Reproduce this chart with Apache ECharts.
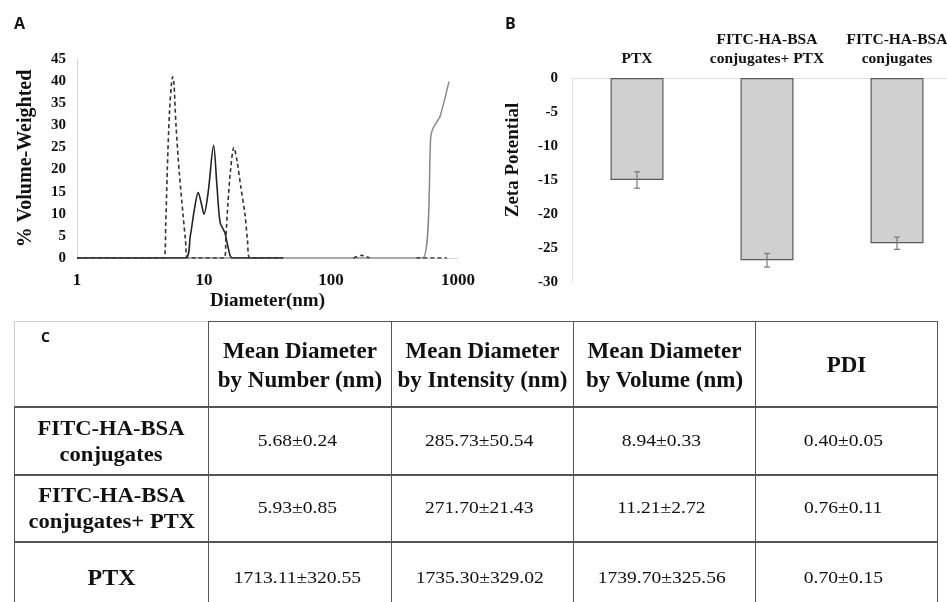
<!DOCTYPE html>
<html>
<head>
<meta charset="utf-8">
<script src="https://cdn.jsdelivr.net/npm/echarts@6/dist/echarts.min.js"></script>
<style>
  html, body { margin: 0; padding: 0; background: #fff; }
  #wrap { position: relative; width: 947px; height: 602px; overflow: hidden; }
  #chart { position: absolute; left: 0; top: 0; width: 990px; height: 602px; }
  #tbl { position: absolute; left: 14px; top: 321px; border-collapse: collapse; table-layout: fixed;
         font-family: "Liberation Serif", serif; color: #111; }
  #tbl td { border: 1px solid #555; text-align: center; vertical-align: middle; padding: 0; }
  #tbl tr.body td { border-top: 2px solid #555; }
  #tbl td.head { font-weight: bold; font-size: 23px; line-height: 29px; padding-top: 2px; }
  #tbl td.rowname { font-weight: bold; font-size: 20px; line-height: 26px; }
  #tbl td.val { font-size: 17px; padding-right: 6px; }
  #tbl td span.sx { display: inline-block; }
  #tbl td.rowname span.sx { transform: scaleX(1.13); }
  #tbl td.val span.sx { transform: scaleX(1.15); }
  #tbl td.corner { border-top: 1px solid #ccc; border-left: 1px solid #ccc; vertical-align: top; text-align: left; }
  .plabel { position: absolute; font-family: "Open Sans", "DejaVu Sans", sans-serif; font-weight: bold; font-size: 16px; color: #111; }
</style>
</head>
<body>
<div id="wrap">
  <div id="chart"></div>
  <div class="plabel" style="left:14px;top:12px;">A</div>
  <div class="plabel" style="left:505px;top:12px;">B</div>
  <table id="tbl"></table>
</div>
<script>
// ---- Panel A : size distribution (% volume-weighted vs diameter) ----
// [diameter nm, % volume]; null breaks the line
const conjugatesCurve = [[1,0],[4.84,0],[5.0,8],[5.14,20],[5.35,33],[5.55,39.5],[5.67,41],[5.8,39.5],[6.02,30],[6.4,19],[6.83,10],[7.15,4],[7.48,0],
  [14.45,0],[14.9,5],[15.4,12],[16.2,20],[17.2,25],[18.2,22],[19.5,16],[21.0,10],[22.0,4],[23,0],[42,0],[80,null],
  [150,0],[175,0.6],[200,0],[300,null],[470,0],[820,0]];
const conjugatesPtxCurve = [[1,0],[7.1,0],[7.8,5],[8.4,11],[9.0,14.8],[9.5,12.5],[10,9.9],[10.8,15],[11.9,25.5],[12.6,17],[13.4,8],[14.6,5.7],[15.6,2],[16.7,0],[42,0]];
const ptxCurve = [[1,0],[527,0],[610,27.4],[640,29.5],[721,32],[849,39.9]];

// ---- Panel B : zeta potential ----
const zetaCategories = ['PTX', 'FITC-HA-BSA\nconjugates+ PTX', 'FITC-HA-BSA\nconjugates'];
const zetaValues = [-15.0, -26.8, -24.3];
const zetaErrors = [1.2, 1.0, 0.9];

// ---- Panel C : table ----
const tableHeaders = ['Mean Diameter<br>by Number (nm)', 'Mean Diameter<br>by Intensity (nm)', 'Mean Diameter<br>by Volume (nm)', 'PDI'];
const tableRows = ['FITC-HA-BSA<br>conjugates', 'FITC-HA-BSA<br>conjugates+ PTX', 'PTX'];
const byNumber = ['5.68±0.24', '5.93±0.85', '1713.11±320.55'];
const byIntensity = ['285.73±50.54', '271.70±21.43', '1735.30±329.02'];
const byVolume = ['8.94±0.33', '11.21±2.72', '1739.70±325.56'];
const pdi = ['0.40±0.05', '0.76±0.11', '0.70±0.15'];

const serif = '"Liberation Serif", "Times New Roman", serif';
const lightAxis = { lineStyle: { color: '#d6d6d6', width: 1 } };

const chart = echarts.init(document.getElementById('chart'));

const errData = zetaValues.map((v, i) => [i, v - zetaErrors[i], v + zetaErrors[i]]);

const option = {
  animation: false,
  grid: [
    { left: 77, top: 59, width: 381, height: 199 },
    { left: 572, top: 78, width: 390, height: 204 }
  ],
  xAxis: [
    {
      gridIndex: 0, type: 'log', logBase: 10, min: 1, max: 1000,
      axisLine: lightAxis, axisTick: { show: false }, splitLine: { show: false },
      axisLabel: { color: '#111', fontFamily: serif, fontWeight: 'bold', fontSize: 17, margin: 14,
        formatter: v => String(v) },
      name: 'Diameter(nm)', nameLocation: 'middle', nameGap: 34,
      nameTextStyle: { color: '#111', fontFamily: serif, fontWeight: 'bold', fontSize: 19 }
    },
    {
      gridIndex: 1, type: 'category', data: zetaCategories, position: 'top',
      axisLine: { onZero: false, lineStyle: { color: '#e0e0e0' } }, axisTick: { show: false },
      axisLabel: { interval: 0, color: '#111', fontFamily: serif, fontWeight: 'bold', fontSize: 15.5, lineHeight: 19, margin: 10 }
    }
  ],
  yAxis: [
    {
      gridIndex: 0, type: 'value', min: 0, max: 45, interval: 5,
      axisLine: { show: true, lineStyle: { color: '#d6d6d6' } }, axisTick: { show: false }, splitLine: { show: false },
      axisLabel: { color: '#111', fontFamily: serif, fontWeight: 'bold', fontSize: 15, margin: 11 },
      name: '% Volume-Weighted', nameLocation: 'middle', nameGap: 41,
      nameTextStyle: { color: '#111', fontFamily: serif, fontWeight: 'bold', fontSize: 20 }
    },
    {
      gridIndex: 1, type: 'value', min: -30, max: 0, interval: 5,
      axisLine: { show: true, lineStyle: { color: '#e0e0e0' } }, axisTick: { show: false }, splitLine: { show: false },
      axisLabel: { color: '#111', fontFamily: serif, fontWeight: 'bold', fontSize: 15, margin: 14 }
    }
  ],
  graphic: [
    {
      type: 'text', x: 513, y: 160, rotation: Math.PI / 2,
      style: { text: 'Zeta Potential', fill: '#111', font: 'bold 19px ' + serif, align: 'center', verticalAlign: 'middle' }
    }
  ],
  series: [
    {
      type: 'line', xAxisIndex: 0, yAxisIndex: 0, data: ptxCurve, showSymbol: false, smooth: 0.2,
      lineStyle: { color: '#8a8a8a', width: 1.5 }, z: 2
    },
    {
      type: 'line', xAxisIndex: 0, yAxisIndex: 0, data: conjugatesPtxCurve, showSymbol: false, smooth: 0.3,
      lineStyle: { color: '#222', width: 1.6 }, z: 3
    },
    {
      type: 'line', xAxisIndex: 0, yAxisIndex: 0, data: conjugatesCurve, showSymbol: false, smooth: 0.3,
      connectNulls: false,
      lineStyle: { color: '#333', width: 1.6, type: [4, 3] }, z: 4
    },
    {
      type: 'bar', xAxisIndex: 1, yAxisIndex: 1, data: zetaValues, barWidth: 53,
      itemStyle: { color: '#d0d0d0', borderColor: '#5a5a5a', borderWidth: 1.2 }
    },
    {
      type: 'custom', xAxisIndex: 1, yAxisIndex: 1, data: errData, z: 5,
      renderItem: function (params, api) {
        const x = api.value(0);
        const top = api.coord([x, api.value(2)]);
        const bot = api.coord([x, api.value(1)]);
        const w = 3;
        const st = { stroke: '#777', lineWidth: 1.2 };
        return {
          type: 'group',
          children: [
            { type: 'line', shape: { x1: top[0], y1: top[1], x2: bot[0], y2: bot[1] }, style: st },
            { type: 'line', shape: { x1: top[0] - w, y1: top[1], x2: top[0] + w, y2: top[1] }, style: st },
            { type: 'line', shape: { x1: bot[0] - w, y1: bot[1], x2: bot[0] + w, y2: bot[1] }, style: st }
          ]
        };
      }
    }
  ]
};
chart.setOption(option);

// build table
const colWidths = [194, 183, 182, 182, 182];
const tbl = document.getElementById('tbl');
let html = '<colgroup>' + colWidths.map(w => '<col style="width:' + w + 'px">').join('') + '</colgroup>';
html += '<tr style="height:85px"><td class="corner"><span class="plabel" style="position:static;display:inline-block;margin:5px 0 0 26px;font-size:14px;">C</span></td>';
html += tableHeaders.map(h => '<td class="head">' + h + '</td>').join('') + '</tr>';
const heights = [68, 67, 72];
tableRows.forEach((r, i) => {
  const label = i === 2 ? '<span style="font-size:24px;">' + r + '</span>' : '<span class="sx">' + r + '</span>';
  html += '<tr class="body" style="height:' + heights[i] + 'px"><td class="rowname">' + label + '</td>';
  [byNumber[i], byIntensity[i], byVolume[i], pdi[i]].forEach(v => { html += '<td class="val"><span class="sx">' + v + '</span></td>'; });
  html += '</tr>';
});
tbl.innerHTML = html;
</script>
</body>
</html>
